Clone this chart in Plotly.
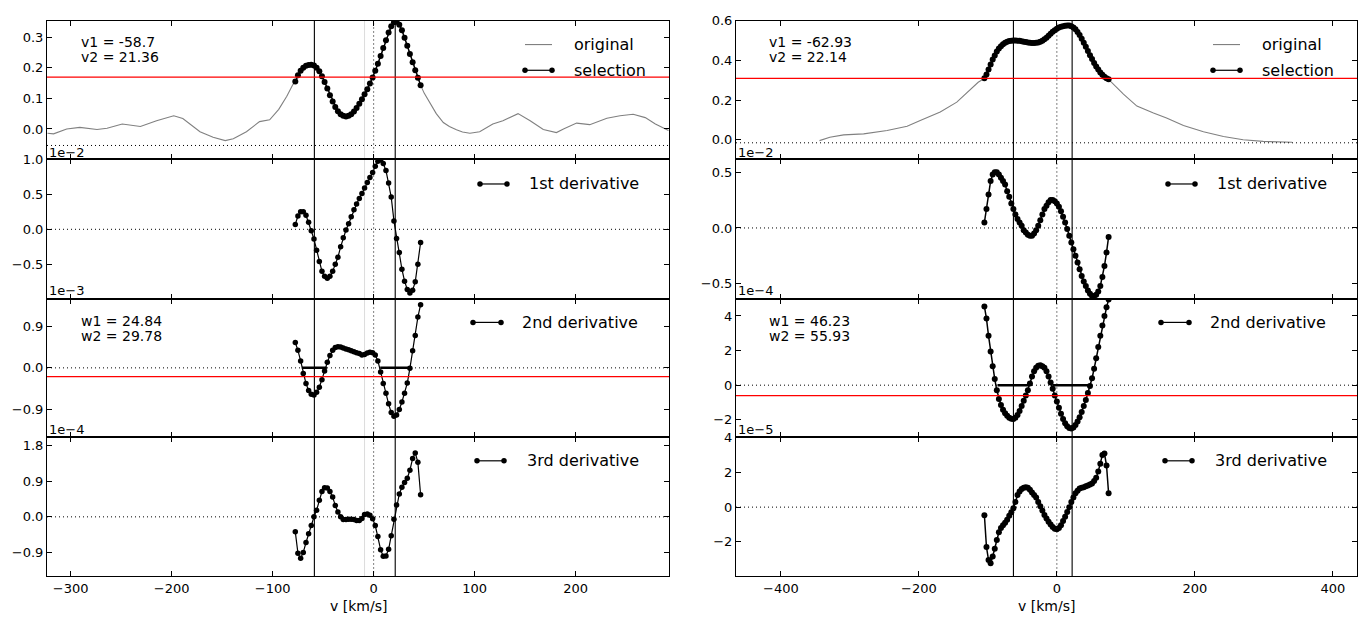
import plotly.graph_objects as go

W, H = 1363, 619

# ---------------- LEFT COLUMN DATA ----------------
v_left = [-77.6, -75.0, -72.3, -69.7, -67.0, -64.4, -61.8, -59.1, -56.5, -53.8, -51.2, -48.6,
          -45.9, -43.3, -40.6, -38.0, -35.4, -32.7, -30.1, -27.4, -24.8, -22.2, -19.5, -16.9,
          -14.2, -11.6, -9.0, -6.3, -3.7, -1.0, 1.6, 4.2, 6.9, 9.5, 12.2, 14.8, 17.4, 20.1,
          22.7, 25.4, 28.0, 30.6, 33.3, 35.9, 38.6, 41.2, 43.8, 46.5]
sel_left = [0.155, 0.175, 0.190, 0.200, 0.206, 0.209, 0.210, 0.207, 0.200, 0.188, 0.172, 0.153,
            0.132, 0.110, 0.090, 0.072, 0.058, 0.048, 0.043, 0.041, 0.043, 0.048, 0.057, 0.068,
            0.082, 0.097, 0.113, 0.130, 0.148, 0.168, 0.190, 0.213, 0.238, 0.264, 0.290, 0.315,
            0.335, 0.348, 0.350, 0.340, 0.322, 0.298, 0.272, 0.245, 0.218, 0.192, 0.167, 0.143]
d1_left = [0.07, 0.19, 0.25, 0.25, 0.20, 0.10, -0.02, -0.14, -0.30, -0.46, -0.60, -0.67,
           -0.70, -0.67, -0.60, -0.50, -0.40, -0.25, -0.12, -0.01, 0.08, 0.18, 0.28, 0.36,
           0.44, 0.51, 0.59, 0.67, 0.74, 0.81, 0.90, 0.97, 0.99, 0.94, 0.84, 0.66, 0.46, 0.12,
           -0.13, -0.33, -0.57, -0.74, -0.86, -0.91, -0.87, -0.75, -0.50, -0.19]
d2_left = [0.55, 0.38, 0.15, -0.12, -0.34, -0.49, -0.57, -0.59, -0.53, -0.42, -0.26, -0.07,
           0.12, 0.27, 0.38, 0.44, 0.46, 0.45, 0.43, 0.41, 0.39, 0.37, 0.35, 0.33,
           0.31, 0.28, 0.29, 0.32, 0.34, 0.33, 0.28, 0.15, -0.09, -0.34, -0.55, -0.78, -0.97, -1.05,
           -1.02, -0.90, -0.74, -0.55, -0.33, -0.01, 0.37, 0.70, 1.10, 1.37]
d3_left = [-0.38, -0.92, -1.05, -0.90, -0.65, -0.43, -0.22, 0.0, 0.17, 0.42, 0.64, 0.74,
           0.73, 0.64, 0.50, 0.29, 0.12, 0.0, -0.07, -0.07, -0.06, -0.06, -0.07, -0.09,
           -0.09, -0.04, 0.06, 0.07, 0.04, -0.05, -0.22, -0.50, -0.83, -1.00, -0.99, -0.82, -0.48, -0.06,
           0.30, 0.58, 0.75, 0.87, 0.98, 1.18, 1.48, 1.62, 1.38, 0.56]
orig_left_lo_v = [-323, -317, -304, -291, -274, -264, -249, -231, -215, -198, -189, -172, -159,
                  -147, -139, -126, -113, -103, -94, -86, -80]
orig_left_lo_f = [-0.014, -0.016, 0.0, 0.005, -0.002, 0.002, 0.016, 0.008, 0.027, 0.043, 0.034,
                  -0.009, -0.027, -0.038, -0.032, -0.009, 0.024, 0.030, 0.064, 0.107, 0.145]
orig_left_hi_v = [50, 55.7, 62, 69, 75, 82, 88, 95.3, 105, 118, 128, 143, 155, 168, 181, 188,
                  201, 214, 231, 244, 257, 269, 279, 292]
orig_left_hi_f = [0.117, 0.086, 0.05, 0.021, 0.008, -0.003, -0.01, -0.014, -0.009, 0.016, 0.027,
                  0.050, 0.027, -0.002, -0.012, 0.0, 0.019, 0.014, 0.035, 0.043, 0.048, 0.037,
                  0.016, -0.005]
left_v1, left_v2 = -58.7, 21.36
left_w1, left_w2 = 24.84, 29.78
left_cont = -0.054
left_thr1 = 0.169
left_thr2 = -0.19
left_grey_v = -9.0

# ---------------- RIGHT COLUMN DATA ----------------
v_right = [-105, -102, -99, -96, -93, -90, -87, -84, -81, -78, -75, -72, -69, -66, -63, -60,
           -57, -54, -51, -48, -45, -42, -39, -36, -33, -30, -27, -24, -21, -18, -15, -12, -9,
           -6, -3, 0, 3, 6, 9, 12, 15, 18, 21, 24, 27, 30, 33, 36, 39, 42, 45, 48, 51, 54, 57,
           60, 63, 66, 69, 72, 75]
sel_right = [0.31, 0.33, 0.355, 0.38, 0.405, 0.425, 0.445, 0.46, 0.472, 0.482,
             0.489, 0.494, 0.498, 0.500, 0.501, 0.501, 0.500, 0.499, 0.497, 0.495,
             0.493, 0.491, 0.489, 0.488, 0.488, 0.489, 0.491, 0.495, 0.500, 0.507,
             0.515, 0.525, 0.535, 0.545, 0.553, 0.560, 0.566, 0.570, 0.573, 0.575,
             0.576, 0.576, 0.573, 0.567, 0.557, 0.544, 0.528, 0.510, 0.490, 0.469,
             0.448, 0.427, 0.407, 0.388, 0.370, 0.354, 0.340, 0.328, 0.318, 0.311, 0.305]
d1_right = [0.05, 0.17, 0.30, 0.42, 0.48, 0.50, 0.50, 0.48, 0.45, 0.42,
            0.39, 0.33, 0.28, 0.22, 0.17, 0.12, 0.08, 0.05, 0.02, -0.02,
            -0.04, -0.06, -0.07, -0.07, -0.05, -0.02, 0.02, 0.07, 0.12, 0.17,
            0.20, 0.23, 0.25, 0.25, 0.24, 0.22, 0.19, 0.15, 0.10, 0.05,
            -0.01, -0.07, -0.13, -0.19, -0.25, -0.31, -0.37, -0.43, -0.48, -0.52,
            -0.56, -0.59, -0.61, -0.61, -0.60, -0.57, -0.52, -0.44, -0.34, -0.22, -0.08]
d2_right = [4.55, 3.85, 2.85, 1.95, 1.1, 0.35, -0.3, -0.8, -1.15, -1.42,
            -1.62, -1.77, -1.88, -1.94, -1.95, -1.88, -1.72, -1.5, -1.2, -0.9,
            -0.6, -0.3, 0.1, 0.5, 0.8, 1.0, 1.12, 1.15, 1.1, 1.0,
            0.8, 0.5, 0.15, -0.2, -0.6, -0.95, -1.3, -1.65, -1.95, -2.2,
            -2.38, -2.48, -2.5, -2.45, -2.3, -2.1, -1.85, -1.55, -1.2, -0.85,
            -0.45, -0.05, 0.4, 0.95, 1.55, 2.2, 2.85, 3.45, 4.0, 4.5, 4.95]
d3_right = [-0.47, -2.3, -3.05, -3.24, -2.85, -2.4, -1.9, -1.45, -1.2, -1.05,
            -0.9, -0.73, -0.5, -0.3, -0.07, 0.3, 0.7, 0.9, 1.05, 1.12,
            1.15, 1.12, 1.0, 0.85, 0.7, 0.55, 0.3, 0.05, -0.2, -0.45,
            -0.65, -0.85, -1.0, -1.15, -1.25, -1.28, -1.2, -1.05, -0.8, -0.55,
            -0.28, 0.0, 0.3, 0.55, 0.8, 0.95, 1.08, 1.12, 1.15, 1.2,
            1.25, 1.3, 1.37, 1.5, 1.7, 2.06, 2.5, 3.0, 3.1, 2.4, 0.8]
orig_right_lo_v = [-344, -329, -309, -280, -246, -217, -198, -169, -145, -126, -114]
orig_right_lo_f = [-0.004, 0.013, 0.025, 0.030, 0.047, 0.068, 0.097, 0.14, 0.19, 0.25, 0.29]
orig_right_hi_v = [96.5, 116, 140, 159, 183.5, 212.5, 241.5, 270, 299, 341]
orig_right_hi_f = [0.23, 0.17, 0.135, 0.11, 0.072, 0.041, 0.017, 0.0, -0.008, -0.012]
right_v1, right_v2 = -62.93, 22.14
right_w1, right_w2 = 46.23, 55.93
right_cont = -0.015
right_thr1 = 0.31
right_thr2 = -0.6

# ---------------- AXES / LAYOUT ----------------
left_xticks = [-300, -200, -100, 0, 100, 200]
right_xticks = [-400, -200, 0, 200, 400]
left_xrange = [-323.5, 292.5]
right_xrange = [-465, 435]

y_cfg = {
    1: dict(range=[-0.099, 0.353], vals=[0.0, 0.1, 0.2, 0.3], txt=["0.0", "0.1", "0.2", "0.3"]),
    2: dict(range=[-0.99, 1.0], vals=[-0.5, 0.0, 0.5, 1.0], txt=["−0.5", "0.0", "0.5", "1.0"]),
    3: dict(range=[-1.5, 1.5], vals=[-0.9, 0.0, 0.9], txt=["−0.9", "0.0", "0.9"]),
    4: dict(range=[-1.51, 2.02], vals=[-0.9, 0.0, 0.9, 1.8], txt=["−0.9", "0.0", "0.9", "1.8"]),
    5: dict(range=[-0.098, 0.6], vals=[0.0, 0.2, 0.4, 0.6], txt=["0.0", "0.2", "0.4", "0.6"]),
    6: dict(range=[-0.634, 0.616], vals=[-0.5, 0.0, 0.5], txt=["−0.5", "0.0", "0.5"]),
    7: dict(range=[-3.0, 5.0], vals=[-2, 0, 2, 4], txt=["−2", "0", "2", "4"]),
    8: dict(range=[-4.0, 4.04], vals=[-2, 0, 2, 4], txt=["−2", "0", "2", "4"]),
}

col_px = [(47, 669), (736, 1357)]
row_px = [(14, 154), (154, 295), (295, 435), (435, 576)]

FONT = "DejaVu Sans"
DOT = "1px,3px"


def fx(px):
    return px / W


def fy(py):
    return 1 - py / H


def axname(kind, idx):
    return kind + "axis" + ("" if idx == 1 else str(idx))


def axref(kind, idx):
    return kind + ("" if idx == 1 else str(idx))


layout = dict(
    width=W, height=H, margin=dict(l=0, r=0, t=0, b=0, pad=0),
    paper_bgcolor="white", plot_bgcolor="rgba(0,0,0,0)", showlegend=False,
    font=dict(family=FONT, size=13, color="black"),
)

for c in range(2):
    for r in range(4):
        idx = c * 4 + r + 1
        x0, x1 = col_px[c]
        t, b = row_px[r]
        xt = left_xticks if c == 0 else right_xticks
        layout[axname("x", idx)] = dict(
            domain=[fx(x0), fx(x1)], range=left_xrange if c == 0 else right_xrange,
            anchor=axref("y", idx), tickvals=xt,
            ticktext=[("−" + str(-v)) if v < 0 else str(v) for v in xt],
            showticklabels=(r == 3), ticks="inside", ticklen=5, tickcolor="black",
            showline=True, mirror="allticks", linecolor="black", linewidth=1,
            showgrid=False, zeroline=False, tickfont=dict(size=13, family=FONT),
        )
        yc = y_cfg[idx]
        layout[axname("y", idx)] = dict(
            domain=[fy(b), fy(t)], range=yc["range"], anchor=axref("x", idx),
            tickvals=yc["vals"], ticktext=yc["txt"],
            ticks="inside", ticklen=5, tickcolor="black",
            showline=True, mirror="allticks", linecolor="black", linewidth=1,
            showgrid=False, zeroline=False, tickfont=dict(size=13, family=FONT),
        )

# overlay axis in pixel units for legend keys
layout["xaxis9"] = dict(domain=[0, 1], range=[0, W], visible=False, anchor="y9", fixedrange=True)
layout["yaxis9"] = dict(domain=[0, 1], range=[H, 0], visible=False, anchor="x9", fixedrange=True)

fig = go.Figure()
fig.update_layout(**layout)

GRAY = "#808080"


def add(idx, x, y, mode, color="black", width=1.2, size=5.5):
    fig.add_trace(go.Scatter(
        x=x, y=y, mode=mode, xaxis=axref("x", idx), yaxis=axref("y", idx),
        line=dict(color=color, width=width), marker=dict(color=color, size=size),
        hoverinfo="skip"))


# left column
add(1, orig_left_lo_v + v_left + orig_left_hi_v, orig_left_lo_f + sel_left + orig_left_hi_f,
    "lines", GRAY, 1.1)
add(1, v_left, sel_left, "lines+markers", width=1.4, size=6)
add(2, v_left, d1_left, "lines+markers")
add(3, v_left, d2_left, "lines+markers")
add(4, v_left, d3_left, "lines+markers")
# right column
add(5, orig_right_lo_v + v_right + orig_right_hi_v, orig_right_lo_f + sel_right + orig_right_hi_f,
    "lines", GRAY, 1.1)
add(5, v_right, sel_right, "lines+markers", width=2, size=6)
add(6, v_right, d1_right, "lines+markers", width=1.5, size=6)
add(7, v_right, d2_right, "lines+markers", width=1.5, size=6)
add(8, v_right, d3_right, "lines+markers", width=1.5, size=6)

# width segments on 2nd derivative
for idx, (v1, v2, w1, w2) in [(3, (left_v1, left_v2, left_w1, left_w2)),
                              (7, (right_v1, right_v2, right_w1, right_w2))]:
    for v, w in [(v1, w1), (v2, w2)]:
        add(idx, [v - w / 2, v + w / 2], [0, 0], "lines", width=2.5)

shapes = []
# vertical lines spanning each column
for c, (v1, v2) in enumerate([(left_v1, left_v2), (right_v1, right_v2)]):
    idx = c * 4 + 1
    ybot, ytop = fy(row_px[3][1]), fy(row_px[0][0])
    if c == 0:
        shapes.append(dict(type="line", xref=axref("x", idx), yref="paper", x0=left_grey_v,
                           x1=left_grey_v, y0=ybot, y1=ytop,
                           line=dict(color="#dcdcdc", width=1), layer="below"))
    shapes.append(dict(type="line", xref=axref("x", idx), yref="paper", x0=0, x1=0,
                       y0=ybot, y1=ytop, line=dict(color="black", width=1, dash=DOT)))
    for v in (v1, v2):
        shapes.append(dict(type="line", xref=axref("x", idx), yref="paper", x0=v, x1=v,
                           y0=ybot, y1=ytop, line=dict(color="black", width=1.1)))

# horizontal dotted baselines and red thresholds
for c in range(2):
    for r in range(4):
        idx = c * 4 + r + 1
        if r == 0:
            yb = left_cont if c == 0 else right_cont
        else:
            yb = 0
        shapes.append(dict(type="line", xref=axref("x", idx) + " domain", yref=axref("y", idx),
                           x0=0, x1=1, y0=yb, y1=yb,
                           line=dict(color="black", width=1, dash=DOT)))
    for r, thr in [(0, left_thr1 if c == 0 else right_thr1), (2, left_thr2 if c == 0 else right_thr2)]:
        idx = c * 4 + r + 1
        shapes.append(dict(type="line", xref=axref("x", idx) + " domain", yref=axref("y", idx),
                           x0=0, x1=1, y0=thr, y1=thr, line=dict(color="red", width=1.3)))

fig.update_layout(shapes=shapes)

# legends (pixel overlay)
annotations = []


def ann(text, px, py, size=14, xanchor="left"):
    annotations.append(dict(text=text, x=fx(px), y=fy(py), xref="paper", yref="paper",
                            xanchor=xanchor, yanchor="middle", showarrow=False,
                            font=dict(family=FONT, size=size, color="black")))


for c, dx in enumerate([0, 688]):
    fig.add_trace(go.Scatter(x=[525 + dx, 552 + dx], y=[38, 38], mode="lines",
                             xaxis="x9", yaxis="y9", line=dict(color=GRAY, width=1.1),
                             hoverinfo="skip"))
    ann("original", 572 + dx, 38, 16)
    for (lx0, lx1, ly, tx, label) in [(525, 552, 64, 572, "selection"),
                                      (480, 507, 179, 527, "1st derivative"),
                                      (473, 501, 319, 520, "2nd derivative"),
                                      (477, 504, 459, 525, "3rd derivative")]:
        fig.add_trace(go.Scatter(x=[lx0 + dx, lx1 + dx], y=[ly, ly], mode="lines+markers",
                                 xaxis="x9", yaxis="y9", line=dict(color="black", width=1.2),
                                 marker=dict(color="black", size=5.5), hoverinfo="skip"))
        ann(label, tx + dx, ly, 16)

# parameter texts
ann("v1 = %s" % left_v1, 79, 35)
ann("v2 = %s" % left_v2, 79, 51)
ann("w1 = %s" % left_w1, 79, 318)
ann("w2 = %s" % left_w2, 79, 333)
ann("v1 = %s" % right_v1, 767, 35)
ann("v2 = %s" % right_v2, 767, 51)
ann("w1 = %s" % right_w1, 767, 318)
ann("w2 = %s" % right_w2, 767, 333)

# offset texts
for px, py, txt in [(47, 147, "1e−2"), (47, 287, "1e−3"), (47, 427, "1e−4"),
                    (736, 147, "1e−2"), (736, 287, "1e−4"), (736, 427, "1e−5")]:
    ann(txt, px, py, 13)

# x axis titles
ann("v [km/s]", 358, 606, 14, "center")
ann("v [km/s]", 1046.5, 606, 14, "center")

fig.update_layout(annotations=annotations)
fig.write_html("out.html", config={"displayModeBar": False},
               post_script="document.body.style.margin='0px';document.body.style.overflow='hidden';")
